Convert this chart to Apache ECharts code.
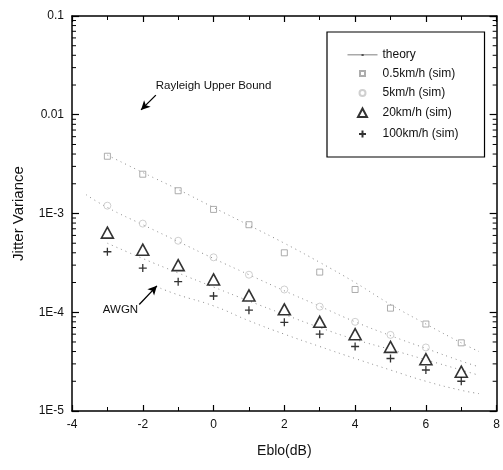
<!DOCTYPE html>
<html>
<head>
<meta charset="utf-8">
<script src="https://cdn.jsdelivr.net/npm/echarts@6/dist/echarts.min.js"></script>
<style>html,body{margin:0;padding:0;background:#fff;}#c{width:503px;height:470px;}</style>
</head>
<body>
<div id="c"></div>
<script>
// ---- data ----
const ebno = [-3, -2, -1, 0, 1, 2, 3, 4, 5, 6, 7];
const sim05 = [3.8e-3, 2.5e-3, 1.7e-3, 1.1e-3, 7.7e-4, 4.0e-4, 2.55e-4, 1.7e-4, 1.1e-4, 7.6e-5, 4.9e-5];
const sim5 = [1.2e-3, 7.9e-4, 5.3e-4, 3.6e-4, 2.4e-4, 1.7e-4, 1.14e-4, 8.0e-5, 5.9e-5, 4.4e-5, null];
const sim20 = [6.4e-4, 4.3e-4, 3.0e-4, 2.15e-4, 1.48e-4, 1.07e-4, 8.0e-5, 6.0e-5, 4.46e-5, 3.35e-5, 2.5e-5];
const sim100 = [4.1e-4, 2.8e-4, 2.04e-4, 1.46e-4, 1.05e-4, 7.9e-5, 6.0e-5, 4.5e-5, 3.4e-5, 2.6e-5, 2.0e-5];

const theoryX = [-3.6, -3, -2, -1, 0, 1, 2, 3, 4, 5, 6, 7, 7.5];
const theoryRayleigh = [null, 3.9e-3, 2.6e-3, 1.75e-3, 1.15e-3, 7.6e-4, 5.0e-4, 3.2e-4, 2.0e-4, 1.2e-4, 7.6e-5, 4.9e-5, 4.0e-5];
const theory5 = [1.55e-3, 1.15e-3, 7.7e-4, 5.2e-4, 3.5e-4, 2.4e-4, 1.65e-4, 1.15e-4, 8.0e-5, 5.8e-5, 4.3e-5, 3.2e-5, 2.8e-5];
const theory20 = [null, 5.0e-4, 3.5e-4, 2.5e-4, 1.8e-4, 1.3e-4, 9.5e-5, 7.0e-5, 5.3e-5, 4.2e-5, 3.3e-5, 2.6e-5, 2.3e-5];
const awgnX = [-1.5, -1, 0, 1, 2, 3, 4, 5, 6, 7, 7.5];
const theoryAWGN = [1.75e-4, 1.5e-4, 1.16e-4, 8.2e-5, 6.0e-5, 4.5e-5, 3.4e-5, 2.6e-5, 2.0e-5, 1.62e-5, 1.5e-5];

const xTickLabels = ['-4', '-2', '0', '2', '4', '6', '8'];
const yTickLabels = ['1E-5', '1E-4', '1E-3', '0.01', '0.1'];
const yDecades = [1e-5, 1e-4, 1e-3, 1e-2, 1e-1];
const minorMult = [2, 3, 4, 5, 6, 7, 8, 9];

// annotation anchors (data space)
const rayleighArrow = [[-1.63, 0.0158], [-2.05, 0.0112]];
const rayleighText = [0.0, 0.0195];
const awgnArrow = [[-2.1, 1.2e-4], [-1.6, 1.85e-4]];
const awgnText = [-2.63, 1.05e-4];

// ---- build ----
const pair = (xs, ys) => xs.map((x, i) => [x, ys[i]]).filter(p => p[1] != null);
const minorVals = [];
yDecades.slice(0, 4).forEach(d => minorMult.forEach(m => minorVals.push([-4, m * d])));

const FONT = 'Liberation Sans';
const TXT = '#111';
const AX = '#000';

const theoryStyle = { color: '#8c8c8c', width: 1, type: [1, 4] };
function theorySeries(xs, ys) {
  return {
    name: 'theory', type: 'line', data: pair(xs, ys), smooth: true,
    showSymbol: false, symbol: 'circle', symbolSize: 3,
    lineStyle: theoryStyle, itemStyle: { color: '#777' }, z: 1, silent: true
  };
}

// legend icons: invisible move points fix a 30x12 box so small symbols keep their size
const BOX = 'M0,0M30,12';
const legendIcons = {
  theory: 'path://' + BOX + 'M0,5.6h30v0.7h-30zM14,5h2.2v2h-2.2z',
  square: 'path://' + BOX + 'M12.5,3.5h5v5h-5z',
  circle: 'path://' + BOX + 'M12,6a3,3 0 1,0 6,0a3,3 0 1,0 -6,0z',
  triangle: 'path://' + BOX + 'M10.5,10.5L15,2L19.5,10.5z',
  plus: 'path://' + BOX + 'M11.5,6.5h7M15,3v7'
};

const chart = echarts.init(document.getElementById('c'), null, { renderer: 'canvas' });

const xAxisBase = {
  type: 'value', min: -4, max: 8, interval: 2,
  axisLine: { show: true, onZero: false, lineStyle: { color: AX, width: 1.5 } },
  axisTick: { show: true, inside: true, length: 6, lineStyle: { color: AX, width: 1.2 } },
  minorTick: { show: true, splitNumber: 2, length: 4, lineStyle: { color: AX, width: 1 } },
  splitLine: { show: false }
};
const yAxisBase = {
  type: 'log', logBase: 10, min: 1e-5, max: 0.1,
  axisLine: { show: true, onZero: false, lineStyle: { color: AX, width: 1.5 } },
  axisTick: { show: true, inside: true, length: 7, lineStyle: { color: AX, width: 1.2 } },
  minorTick: { show: false },
  splitLine: { show: false }
};

const option = {
  backgroundColor: '#fff',
  animation: false,
  textStyle: { fontFamily: FONT },
  grid: { left: 72, right: 3, top: 16, bottom: 59, containLabel: false },
  legend: {
    orient: 'vertical', left: 327, top: 32,
    padding: [17, 26, 15, 18],
    backgroundColor: '#fff',
    borderColor: '#000', borderWidth: 1.2,
    itemWidth: 30, itemHeight: 12, itemGap: 5.5,
    textStyle: { fontFamily: FONT, fontSize: 12, color: TXT },
    data: [
      { name: 'theory', icon: legendIcons.theory, itemStyle: { color: '#555' } },
      { name: '0.5km/h (sim)', icon: legendIcons.square },
      { name: '5km/h (sim)', icon: legendIcons.circle },
      { name: '20km/h (sim)', icon: legendIcons.triangle },
      { name: '100km/h (sim)', icon: legendIcons.plus }
    ]
  },
  xAxis: [
    Object.assign({}, xAxisBase, {
      position: 'bottom',
      name: 'Eblo(dB)', nameLocation: 'middle', nameGap: 33,
      nameTextStyle: { fontFamily: FONT, fontSize: 14, color: TXT },
      axisLabel: {
        show: true, margin: 8, fontFamily: FONT, fontSize: 12, color: TXT,
        formatter: v => xTickLabels[Math.round((v + 4) / 2)]
      }
    }),
    Object.assign({}, xAxisBase, { position: 'top', axisLabel: { show: false } })
  ],
  yAxis: [
    Object.assign({}, yAxisBase, {
      position: 'left',
      name: 'Jitter Variance', nameLocation: 'middle', nameGap: 46, nameRotate: 90,
      nameTextStyle: { fontFamily: FONT, fontSize: 15, color: TXT },
      axisLabel: {
        show: true, margin: 8, fontFamily: FONT, fontSize: 12, color: TXT,
        formatter: v => yTickLabels[Math.round(Math.log10(v)) + 5]
      }
    }),
    Object.assign({}, yAxisBase, { position: 'right', axisLabel: { show: false } })
  ],
  series: [
    theorySeries(theoryX, theoryRayleigh),
    theorySeries(theoryX, theory5),
    theorySeries(theoryX, theory20),
    theorySeries(awgnX, theoryAWGN),
    {
      name: '0.5km/h (sim)', type: 'scatter', data: pair(ebno, sim05),
      symbol: 'rect', symbolSize: 6,
      itemStyle: { color: 'rgba(255,255,255,0)', borderColor: '#999', borderWidth: 1 }, z: 3
    },
    {
      name: '5km/h (sim)', type: 'scatter', data: pair(ebno, sim5),
      symbol: 'circle', symbolSize: 7,
      itemStyle: { color: 'rgba(255,255,255,0)', borderColor: '#c4c4c4', borderWidth: 1 }, z: 3
    },
    {
      name: '20km/h (sim)', type: 'scatter', data: pair(ebno, sim20),
      symbol: 'triangle', symbolSize: [12, 11],
      itemStyle: { color: '#fff', borderColor: '#000', borderWidth: 1.6 }, z: 4
    },
    {
      name: '100km/h (sim)', type: 'scatter', data: pair(ebno, sim100),
      symbol: 'path://M0,5L10,5M5,0L5,10', symbolSize: 8,
      itemStyle: { color: 'none', borderColor: '#000', borderWidth: 1.3 }, z: 4
    },
    {
      name: 'minorTicks', type: 'custom', data: minorVals, silent: true, clip: false, z: 5,
      renderItem: function (params, api) {
        const v = api.value(1);
        const l = api.coord([-4, v]);
        const r = api.coord([8, v]);
        const s = { stroke: '#000', lineWidth: 1 };
        return {
          type: 'group', children: [
            { type: 'line', shape: { x1: l[0], y1: l[1], x2: l[0] + 4, y2: l[1] }, style: s },
            { type: 'line', shape: { x1: r[0], y1: r[1], x2: r[0] - 4, y2: r[1] }, style: s }
          ]
        };
      }
    },
    {
      name: 'annot', type: 'line', data: [], silent: true,
      markLine: {
        silent: true, animation: false,
        symbol: ['none', 'arrow'], symbolSize: [7, 9],
        lineStyle: { color: '#000', width: 1.3, type: 'solid' },
        label: { show: false },
        data: [
          [{ coord: rayleighArrow[0] }, { coord: rayleighArrow[1] }],
          [{ coord: awgnArrow[0] }, { coord: awgnArrow[1] }]
        ]
      },
      markPoint: {
        silent: true, symbol: 'circle', symbolSize: 0,
        label: { show: true, fontFamily: FONT, fontSize: 11.5, color: TXT, position: 'inside' },
        data: [
          { coord: rayleighText, value: 'Rayleigh Upper Bound', label: { formatter: 'Rayleigh Upper Bound' } },
          { coord: awgnText, value: 'AWGN', label: { formatter: 'AWGN' } }
        ]
      }
    }
  ]
};
chart.setOption(option);
</script>
</body>
</html>
